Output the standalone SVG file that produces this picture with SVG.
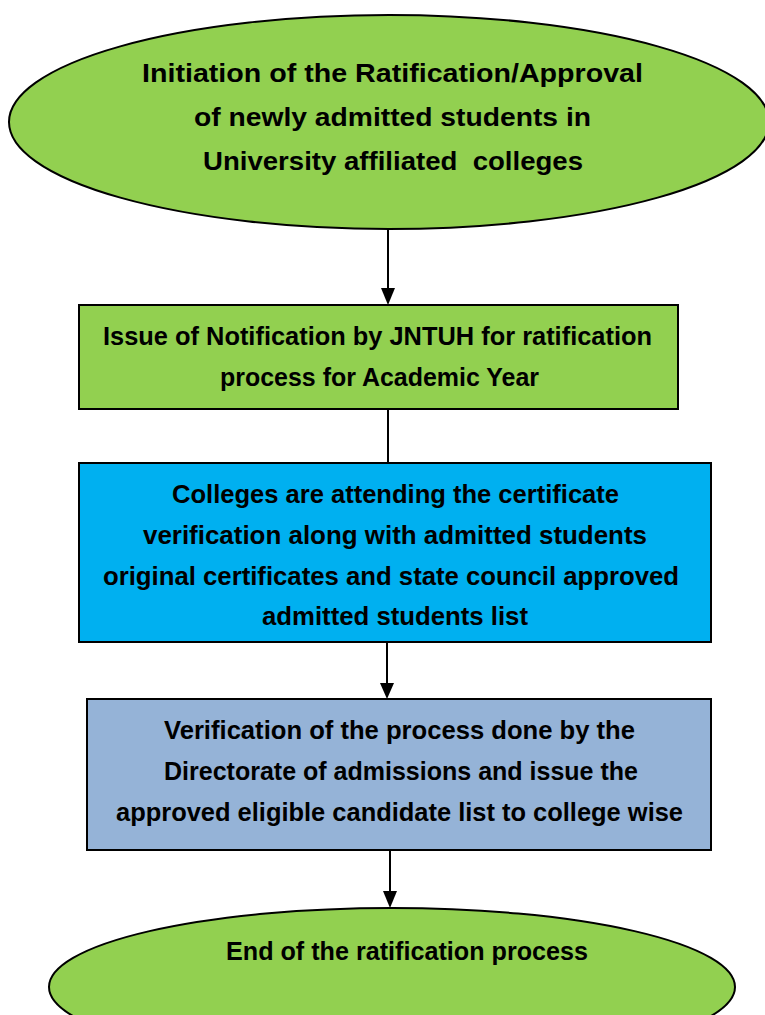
<svg xmlns="http://www.w3.org/2000/svg" width="765" height="1015" viewBox="0 0 765 1015">
<style>
.n{stroke:#000;stroke-width:2}
.g{fill:#92D050}
.b{fill:#00B0F0}
.s{fill:#95B3D7}
.t{font-family:"Liberation Sans",Arial,sans-serif;font-weight:bold;font-size:25px;fill:#000;text-anchor:middle}
.c{stroke:#000;stroke-width:2;fill:none}
</style>
<rect width="765" height="1015" fill="#fff"/>
<g id="connectors">
<line class="c" x1="388" y1="228" x2="388" y2="288"/>
<path d="M381,288 L395,288 L388,305 z" fill="#000"/>
<line class="c" x1="388" y1="409" x2="388" y2="463"/>
<line class="c" x1="387" y1="628" x2="387" y2="683"/>
<path d="M380,683 L394,683 L387,699 z" fill="#000"/>
<line class="c" x1="390" y1="850" x2="390" y2="891"/>
<path d="M383,891 L397,891 L390,908 z" fill="#000"/>
</g>
<g id="start">
<ellipse class="n g" cx="389" cy="122" rx="380" ry="107"/>
<text class="t" x="392.5" y="82" textLength="501" lengthAdjust="spacingAndGlyphs">Initiation of the Ratification/Approval</text>
<text class="t" x="392.5" y="126" textLength="397" lengthAdjust="spacingAndGlyphs">of newly admitted students in</text>
<text class="t" x="393" y="170" textLength="380" lengthAdjust="spacingAndGlyphs" xml:space="preserve">University affiliated  colleges</text>
</g>
<g id="notification">
<rect class="n g" x="79" y="305" width="599" height="104"/>
<text class="t" x="377.5" y="345" textLength="549" lengthAdjust="spacingAndGlyphs">Issue of Notification by JNTUH for ratification</text>
<text class="t" x="379.5" y="386" textLength="319" lengthAdjust="spacingAndGlyphs">process for Academic Year</text>
</g>
<g id="verification-attend">
<rect class="n b" x="79" y="463" width="632" height="179"/>
<text class="t" x="395.5" y="503" textLength="447" lengthAdjust="spacingAndGlyphs">Colleges are attending the certificate</text>
<text class="t" x="395" y="544" textLength="504" lengthAdjust="spacingAndGlyphs">verification along with admitted students</text>
<text class="t" x="391" y="585" textLength="576" lengthAdjust="spacingAndGlyphs">original certificates and state council approved</text>
<text class="t" x="395" y="625" textLength="266" lengthAdjust="spacingAndGlyphs">admitted students list</text>
</g>
<g id="directorate">
<rect class="n s" x="87" y="699" width="624" height="151"/>
<text class="t" x="399.5" y="739" textLength="471" lengthAdjust="spacingAndGlyphs">Verification of the process done by the</text>
<text class="t" x="401" y="780" textLength="474" lengthAdjust="spacingAndGlyphs">Directorate of admissions and issue the</text>
<text class="t" x="399.5" y="821" textLength="567" lengthAdjust="spacingAndGlyphs">approved eligible candidate list to college wise</text>
</g>
<g id="end">
<ellipse class="n g" cx="392" cy="987" rx="343" ry="79"/>
<text class="t" x="407" y="960" textLength="362" lengthAdjust="spacingAndGlyphs">End of the ratification process</text>
</g>
</svg>
